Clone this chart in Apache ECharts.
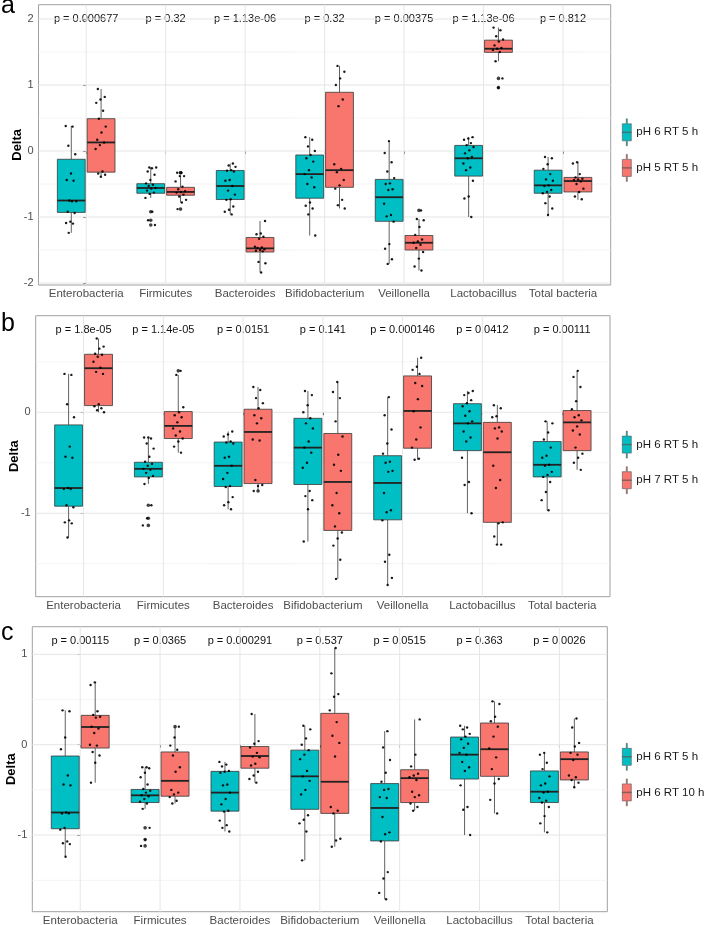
<!DOCTYPE html>
<html><head><meta charset="utf-8">
<script src="https://cdn.jsdelivr.net/npm/echarts@6/dist/echarts.min.js"></script>
<style>html,body{margin:0;padding:0;background:#fff}#c{width:704px;height:925px}</style>
</head><body><div id="c"></div>
<script>
// ---------------- DATA ----------------
const categories = ['Enterobacteria','Firmicutes','Bacteroides','Bifidobacterium','Veillonella','Lactobacillus','Total bacteria'];
const ctrlName = 'pH 6 RT 5 h';
const treatNames = ['pH 5 RT 5 h','pH 7 RT 5 h','pH 6 RT 10 h'];
const panelLetters = ['a','b','c'];

// box stats: [lower whisker, Q1, median, Q3, upper whisker]
const ctrlBox = [
  [-1.24,-0.93,-0.75,-0.125,0.38],
  [-0.71,-0.64,-0.56,-0.495,-0.25],
  [-0.96,-0.735,-0.53,-0.295,-0.19],
  [-1.28,-0.715,-0.35,-0.06,0.21],
  [-1.71,-1.065,-0.70,-0.43,0.15],
  [-1.0,-0.38,-0.11,0.085,0.21],
  [-0.97,-0.64,-0.52,-0.29,-0.09]
];
const ctrlPts = [
  [0.38,0.37,0.08,-0.05,-0.34,-0.44,-0.45,-0.75,-0.76,-0.76,-0.92,-0.94,-1.07,-1.09,-1.1,-1.24],
  [-0.25,-0.25,-0.26,-0.31,-0.36,-0.44,-0.49,-0.51,-0.53,-0.56,-0.57,-0.6,-0.63,-0.65,-0.71,-0.92,-1.05,-1.12],
  [-0.19,-0.22,-0.24,-0.29,-0.3,-0.31,-0.44,-0.45,-0.53,-0.6,-0.66,-0.73,-0.74,-0.84,-0.89,-0.92,-0.96],
  [0.21,0.17,0.07,0.0,-0.06,-0.11,-0.16,-0.29,-0.35,-0.4,-0.5,-0.55,-0.78,-0.83,-0.87,-0.96,-1.28],
  [0.15,-0.03,-0.17,-0.31,-0.41,-0.49,-0.5,-0.58,-0.59,-0.8,-0.97,-0.99,-1.07,-1.41,-1.48,-1.64,-1.71],
  [0.21,0.19,0.17,0.12,0.09,0.06,0.01,-0.035,-0.09,-0.11,-0.19,-0.25,-0.29,-0.45,-0.69,-0.72,-1.0],
  [-0.09,-0.11,-0.2,-0.27,-0.35,-0.43,-0.45,-0.52,-0.53,-0.59,-0.62,-0.64,-0.69,-0.79,-0.87,-0.97]
];

// panel a: pH 5 RT 5 h
const boxA = [
  [-0.39,-0.32,0.13,0.49,0.94],
  [-0.78,-0.67,-0.62,-0.55,-0.38],
  [-1.84,-1.53,-1.475,-1.31,-1.06],
  [-0.87,-0.55,-0.29,0.89,1.29],
  [-1.81,-1.5,-1.39,-1.28,-1.03],
  [1.36,1.495,1.55,1.68,1.87],
  [-0.74,-0.62,-0.455,-0.4,-0.17]
];
const ptsA = [
  [0.94,0.82,0.78,0.73,0.61,0.49,0.37,0.28,0.17,0.13,0.09,0.03,-0.31,-0.34,-0.36,-0.39],
  [-0.33,-0.33,-0.38,-0.38,-0.46,-0.54,-0.58,-0.61,-0.62,-0.63,-0.66,-0.69,-0.74,-0.78,-0.88],
  [-1.06,-1.25,-1.26,-1.3,-1.33,-1.45,-1.46,-1.47,-1.49,-1.5,-1.51,-1.52,-1.68,-1.7,-1.84],
  [1.29,1.2,1.1,1.0,0.78,0.68,-0.2,-0.27,-0.32,-0.44,-0.52,-0.57,-0.74,-0.82,-0.87],
  [-0.9,-1.03,-1.05,-1.15,-1.27,-1.34,-1.37,-1.39,-1.42,-1.47,-1.53,-1.63,-1.75,-1.81],
  [1.87,1.83,1.74,1.69,1.66,1.6,1.56,1.55,1.53,1.5,1.36,1.1,0.96],
  [-0.17,-0.19,-0.35,-0.4,-0.42,-0.43,-0.44,-0.46,-0.5,-0.57,-0.62,-0.69,-0.73]
];
const pvalsA = ['p = 0.000677','p = 0.32','p = 1.13e-06','p = 0.32','p = 0.00375','p = 1.13e-06','p = 0.812'];

// panel b: pH 7 RT 5 h
const boxB = [
  [0.0,0.066,0.436,0.574,0.73],
  [-0.4,-0.26,-0.135,0.007,0.37],
  [-0.776,-0.706,-0.195,0.03,0.25],
  [-1.65,-1.17,-0.69,-0.21,0.3],
  [-0.47,-0.356,0.013,0.36,0.54],
  [-1.31,-1.09,-0.396,-0.1,0.073],
  [-0.57,-0.38,-0.1,0.017,0.41]
];
const ptsB = [
  [0.73,0.65,0.63,0.58,0.57,0.55,0.5,0.44,0.4,0.38,0.08,0.06,0.04,0.02,0.0],
  [0.41,0.37,0.05,0.0,-0.03,-0.05,-0.1,-0.16,-0.19,-0.23,-0.26,-0.29,-0.34,-0.4],
  [0.25,0.22,0.14,0.09,0.04,-0.03,-0.06,-0.11,-0.27,-0.28,-0.67,-0.72,-0.73,-0.78],
  [0.3,0.2,0.14,-0.09,-0.24,-0.42,-0.52,-0.58,-0.8,-0.92,-1.0,-1.13,-1.19,-1.25,-1.32,-1.46,-1.65],
  [0.54,0.45,0.42,0.38,0.29,0.26,0.13,0.01,-0.15,-0.27,-0.35,-0.46,-0.47],
  [0.07,0.04,-0.04,-0.05,-0.15,-0.16,-0.19,-0.26,-0.53,-0.67,-0.75,-1.09,-1.1,-1.23,-1.31,-1.31],
  [0.41,0.35,0.25,0.11,0.03,-0.03,-0.05,-0.08,-0.14,-0.18,-0.22,-0.35,-0.41,-0.45,-0.5,-0.57]
];
const pvalsB = ['p = 1.8e-05','p = 1.14e-05','p = 0.0151','p = 0.141','p = 0.000146','p = 0.0412','p = 0.00111'];

// panel c: pH 6 RT 10 h
const boxC = [
  [-0.42,-0.037,0.196,0.325,0.69],
  [-0.65,-0.57,-0.4,-0.08,0.196],
  [-0.42,-0.26,-0.125,-0.02,0.34],
  [-1.13,-0.76,-0.41,0.347,1.07],
  [-0.73,-0.64,-0.37,-0.277,0.28],
  [-0.76,-0.35,-0.05,0.24,0.48],
  [-0.47,-0.39,-0.16,-0.08,0.29]
];
const ptsC = [
  [0.69,0.66,0.37,0.33,0.31,0.3,0.2,0.18,0.13,0.0,-0.01,-0.08,-0.12,-0.2,-0.42],
  [0.2,0.08,-0.01,-0.055,-0.12,-0.25,-0.3,-0.5,-0.53,-0.55,-0.58,-0.62,-0.65],
  [0.34,0.04,0.01,-0.03,-0.09,-0.13,-0.14,-0.21,-0.23,-0.3,-0.34,-0.38,-0.42],
  [1.07,0.79,0.56,0.53,0.38,0.25,0.1,0.02,-0.13,-0.69,-0.73,-0.76,-1.04,-1.06,-1.13],
  [0.28,-0.11,-0.24,-0.32,-0.34,-0.36,-0.39,-0.52,-0.56,-0.58,-0.65,-0.69,-0.73],
  [0.48,0.45,0.31,0.26,0.2,0.09,-0.04,-0.14,-0.27,-0.38,-0.43,-0.61,-0.76],
  [0.29,0.19,0.02,-0.02,-0.09,-0.11,-0.17,-0.34,-0.36,-0.39,-0.42,-0.47]
];
const pvalsC = ['p = 0.00115','p = 0.0365','p = 0.000291','p = 0.537','p = 0.0515','p = 0.363','p = 0.0026'];

// y axis ticks (major labelled) and minor gridlines, axis ranges
const yTicksA = [-2,-1,0,1,2],  yMinorA = [-1.5,-0.5,0.5,1.5], yRangeA = [-2.03, 2.217];
const yTicksB = [-1,0],         yMinorB = [-1.5,-0.5,0.5],     yRangeB = [-1.826, 0.956];
const yTicksC = [-1,0,1],       yMinorC = [-1.5,-0.5,0.5],     yRangeC = [-1.848, 1.306];

// ---------------- LAYOUT / STYLE ----------------
const FONT = '"Liberation Sans", Arial, Helvetica, sans-serif';
const TEAL = '#00BFC4', RED = '#F8766D';
const OFF = 0.1875, HALF = 0.175, JIT = 0.07;
const catIdx = categories.map((_, i) => i);

const panels = [
  {box: boxA, pts: ptsA, pvals: pvalsA, ticks: yTicksA, minor: yMinorA, range: yRangeA, treat: treatNames[0],
   grid: [38.5, 4.7, 572.2, 280.3], legendTop: 118.5, letterY: 6},
  {box: boxB, pts: ptsB, pvals: pvalsB, ticks: yTicksB, minor: yMinorB, range: yRangeB, treat: treatNames[1],
   grid: [35.7, 315.7, 574.3, 281], legendTop: 430.8, letterY: 324},
  {box: boxC, pts: ptsC, pvals: pvalsC, ticks: yTicksC, minor: yMinorC, range: yRangeC, treat: treatNames[2],
   grid: [32.3, 626.7, 575, 285], legendTop: 743, letterY: 633}
];

const ICON = 'path://M4,0L5,0L5,5L9,5L9,22L5,22L5,27L4,27L4,22L0,22L0,5L4,5Z M0,13.2L9,13.2L9,13.8L0,13.8Z';

function boxRender(off, color) {
  return function (params, api) {
    const x = api.value(0) + off;
    const c = v => api.coord([x, v]);
    const xl = api.coord([x - HALF, 0])[0], xr = api.coord([x + HALF, 0])[0];
    const lo = c(api.value(1)), q1 = c(api.value(2)), md = c(api.value(3)), q3 = c(api.value(4)), hi = c(api.value(5));
    const st = {stroke: '#3a3a3a', lineWidth: 0.8};
    return {type: 'group', children: [
      {type: 'line', shape: {x1: hi[0], y1: hi[1], x2: q3[0], y2: q3[1]}, style: st},
      {type: 'line', shape: {x1: q1[0], y1: q1[1], x2: lo[0], y2: lo[1]}, style: st},
      {type: 'rect', shape: {x: xl, y: q3[1], width: xr - xl, height: q1[1] - q3[1]},
       style: {fill: color, stroke: '#3a3a3a', lineWidth: 0.8}},
      {type: 'line', shape: {x1: xl, y1: md[1], x2: xr, y2: md[1]}, style: {stroke: '#222', lineWidth: 1.8}}
    ]};
  };
}

const grids = [], xAxes = [], yAxes = [], series = [], legends = [], graphics = [];

panels.forEach((p, k) => {
  grids.push({left: p.grid[0], top: p.grid[1], width: p.grid[2], height: p.grid[3],
    show: true, borderColor: '#a0a0a0', borderWidth: 1, backgroundColor: 'transparent',
    containLabel: false, outerBoundsMode: 'none'});
  const xb = xAxes.length;
  xAxes.push({type: 'value', gridIndex: k, min: -0.6, max: 6.6, position: 'bottom',
    axisLine: {show: false}, splitLine: {show: false},
    axisTick: {show: true, customValues: catIdx, length: 3, lineStyle: {color: '#333', width: 1}},
    axisLabel: {customValues: catIdx, formatter: v => categories[Math.round(v)],
      fontFamily: FONT, fontSize: 11.5, color: '#4d4d4d', margin: 3}});
  xAxes.push({type: 'value', gridIndex: k, min: -0.6, max: 6.6, position: 'top',
    axisLine: {show: false}, axisTick: {show: false}, splitLine: {show: false},
    axisLabel: {inside: true, customValues: catIdx, formatter: v => p.pvals[Math.round(v)],
      fontFamily: FONT, fontSize: 11, color: '#111', margin: 8.5}});
  yAxes.push({type: 'value', gridIndex: k, min: p.range[0], max: p.range[1],
    axisLine: {show: false}, splitLine: {show: false},
    axisTick: {show: true, customValues: p.ticks, length: 3, lineStyle: {color: '#333', width: 1}},
    axisLabel: {customValues: p.ticks, fontFamily: FONT, fontSize: 11, color: '#4d4d4d', margin: 5},
    name: 'Delta', nameLocation: 'middle', nameGap: 14.5, nameRotate: 90, nameMoveOverlap: false,
    nameTextStyle: {fontFamily: FONT, fontWeight: 'bold', fontSize: 13, color: '#000'}});

  // horizontal gridlines
  series.push({type: 'custom', xAxisIndex: xb, yAxisIndex: k, silent: true, z: 1,
    data: p.ticks.map(v => [0, v, 1]).concat(p.minor.map(v => [0, v, 0])),
    renderItem: (params, api) => {
      const cs = params.coordSys; const y = api.coord([0, api.value(1)])[1];
      const major = api.value(2) === 1;
      return {type: 'line', shape: {x1: cs.x, y1: y, x2: cs.x + cs.width, y2: y},
        style: {stroke: major ? '#e6e6e6' : '#f1f1f1', lineWidth: major ? 1 : 0.8}};
    }});
  // vertical gridlines
  series.push({type: 'custom', xAxisIndex: xb, yAxisIndex: k, silent: true, z: 1,
    data: catIdx.map(i => [i, 0]),
    renderItem: (params, api) => {
      const cs = params.coordSys; const x = api.coord([api.value(0), 0])[0];
      return {type: 'line', shape: {x1: x, y1: cs.y, x2: x, y2: cs.y + cs.height},
        style: {stroke: '#e6e6e6', lineWidth: 1}};
    }});

  const groups = [
    {name: ctrlName, box: ctrlBox, pts: ctrlPts, off: -OFF, color: TEAL},
    {name: p.treat, box: p.box, pts: p.pts, off: OFF, color: RED}
  ];
  groups.forEach((g, gi) => {
    series.push({type: 'custom', name: g.name, xAxisIndex: xb, yAxisIndex: k, z: 2,
      itemStyle: {color: g.color},
      encode: {x: 0, y: [1, 2, 3, 4, 5]},
      data: g.box.map((b, i) => [i].concat(b)),
      renderItem: boxRender(g.off, g.color)});
    const jit = [], out = [];
    g.pts.forEach((arr, i) => {
      const b = g.box[i];
      arr.forEach((v, j) => {
        const frac = ((j * 0.6180339 + i * 0.37 + gi * 0.21 + k * 0.13) % 1) - 0.5;
        jit.push([i + g.off + frac * 2 * JIT, v]);
        if (v < b[0] - 1e-9 || v > b[4] + 1e-9) out.push([i + g.off, v]);
      });
    });
    series.push({type: 'scatter', xAxisIndex: xb, yAxisIndex: k, z: 3, silent: true,
      symbolSize: 3.6, itemStyle: {color: '#111'}, data: out, clip: false});
    series.push({type: 'scatter', xAxisIndex: xb, yAxisIndex: k, z: 4, silent: true,
      symbolSize: 2.4, itemStyle: {color: '#000', opacity: 0.9}, data: jit, clip: false});
  });

  legends.push({orient: 'vertical', left: 622, top: p.legendTop, padding: 0,
    itemWidth: 9, itemHeight: 27, itemGap: 8,
    selectedMode: false, textStyle: {fontFamily: FONT, fontSize: 11.5, color: '#1a1a1a'},
    data: [
      {name: ctrlName, icon: ICON, itemStyle: {color: TEAL, borderColor: '#555', borderWidth: 0.6}},
      {name: p.treat, icon: ICON, itemStyle: {color: RED, borderColor: '#555', borderWidth: 0.6}}
    ]});

  graphics.push({type: 'text', left: 1, top: p.letterY - 12,
    style: {text: panelLetters[k], font: '25px ' + FONT, fill: '#000'}});
});

const chart = echarts.init(document.getElementById('c'), null, {renderer: 'canvas'});
chart.setOption({
  animation: false,
  backgroundColor: '#fff',
  grid: grids, xAxis: xAxes, yAxis: yAxes, series: series, legend: legends, graphic: graphics
});
</script></body></html>
